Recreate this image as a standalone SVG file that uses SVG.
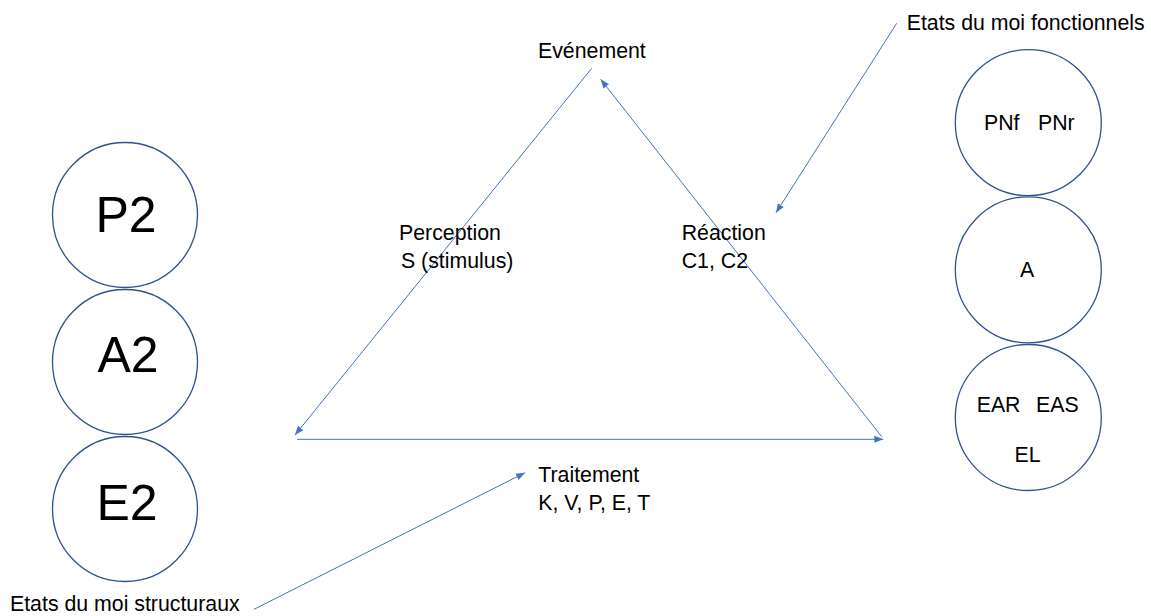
<svg xmlns="http://www.w3.org/2000/svg" width="1151" height="616" viewBox="0 0 1151 616">
<defs>
<marker id="arrow" markerUnits="userSpaceOnUse" markerWidth="10" markerHeight="8" refX="9" refY="4" orient="auto">
<path d="M0,0.5 L9,4 L0,7.5 Z" fill="#4472C4"/>
</marker>
<style>
.c{fill:#fff;stroke:#2F528F;stroke-width:1.3}
.big{font-family:"Liberation Sans",Arial,sans-serif;font-size:50px;fill:#000;text-anchor:middle}
.t{font-family:"Liberation Sans",Arial,sans-serif;font-size:21.3px;fill:#000}
.m{text-anchor:middle}
.l{fill:none;stroke:#4472C4;stroke-width:1;marker-end:url(#arrow)}
</style>
</defs>
<rect width="1151" height="616" fill="#fff"/>
<g id="connectors">
<line class="l" x1="591.7" y1="68.3" x2="295" y2="435"/>
<line class="l" x1="881.7" y1="436.7" x2="600.7" y2="79.3"/>
<line class="l" x1="297" y1="439.3" x2="883.3" y2="439.3"/>
<line class="l" x1="896.7" y1="23.3" x2="776" y2="212.7"/>
<line class="l" x1="254" y1="609.3" x2="525" y2="472.7"/>
</g>
<g id="node-P2"><circle class="c" cx="125" cy="215" r="72.5"/><text class="big" x="126" y="232">P2</text></g>
<g id="node-A2"><circle class="c" cx="125" cy="362" r="72.5"/><text class="big" x="128" y="372">A2</text></g>
<g id="node-E2"><circle class="c" cx="125" cy="509" r="72.5"/><text class="big" x="127" y="519.5">E2</text></g>
<g id="node-PN"><circle class="c" cx="1028.3" cy="122.7" r="73"/><text class="t" x="984" y="130">PNf</text><text class="t" x="1038" y="130">PNr</text></g>
<g id="node-A"><circle class="c" cx="1028.3" cy="269.8" r="73"/><text class="t m" x="1027" y="277">A</text></g>
<g id="node-E"><circle class="c" cx="1028.3" cy="417.5" r="73"/><text class="t" x="976.7" y="411.7">EAR</text><text class="t" x="1036" y="411.7">EAS</text><text class="t m" x="1027.5" y="461.7">EL</text></g>
<g id="node-evenement"><text class="t" x="538" y="58">Evénement</text></g>
<g id="node-perception"><text class="t" x="399" y="240">Perception</text><text class="t" x="401" y="268">S (stimulus)</text></g>
<g id="node-reaction"><text class="t" x="681.7" y="240">Réaction</text><text class="t" x="681.7" y="268">C1, C2</text></g>
<g id="node-traitement"><text class="t" x="538.3" y="481.5">Traitement</text><text class="t" x="538.3" y="509.5">K, V, P, E, T</text></g>
<g id="node-fonctionnels"><text class="t" x="906.7" y="30">Etats du moi fonctionnels</text></g>
<g id="node-structuraux"><text class="t" x="10" y="611">Etats du moi structuraux</text></g>
</svg>
